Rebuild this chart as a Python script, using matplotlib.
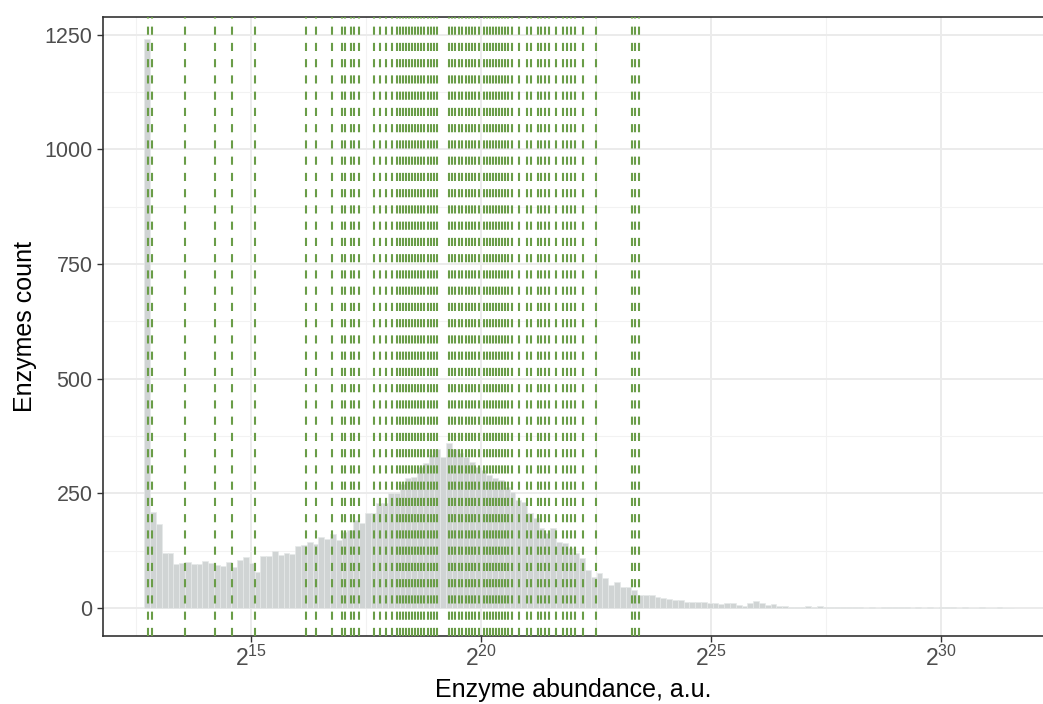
import numpy as np
import matplotlib
matplotlib.use("Agg")
import matplotlib.pyplot as plt

plt.rcParams['font.family'] = ['Liberation Sans', 'DejaVu Sans']
plt.rcParams['mathtext.fontset'] = 'custom'
plt.rcParams['mathtext.rm'] = 'Liberation Sans'
plt.rcParams['mathtext.default'] = 'regular'

# histogram of log2 enzyme abundance (150 bins)
bin_lo = 12.68
bin_hi = 31.59
counts = [1240, 210, 183, 119, 119, 96, 99, 101, 97, 97,
          103, 98, 94, 92, 101, 89, 105, 112, 99, 79,
          114, 114, 125, 115, 120, 118, 136, 137, 143, 140,
          155, 150, 161, 148, 166, 170, 192, 185, 207, 207,
          229, 229, 251, 250, 270, 283, 285, 308, 316, 334,
          347, 330, 360, 347, 338, 330, 319, 308, 301, 290,
          283, 279, 265, 254, 236, 232, 207, 196, 174, 163,
          174, 145, 141, 131, 120, 109, 83, 68, 76, 65,
          50, 57, 46, 46, 39, 28, 28, 29, 25, 22,
          20, 17, 17, 14, 14, 13, 14, 12, 10, 9,
          10, 11, 6, 4, 11, 16, 11, 7, 8, 5,
          4, 3, 3, 3, 4, 3, 4, 2, 2, 3,
          3, 2, 2, 2, 1, 2, 1, 2, 2, 2,
          3, 2, 1, 2, 1, 2, 1, 2, 3, 2,
          1, 2, 1, 1, 2, 1, 1, 2, 1, 1]

# log2 abundance of highlighted enzymes
marked = [12.76, 12.85, 13.57, 14.22, 14.59, 15.09, 16.20, 16.41, 16.76, 16.98,
          17.04, 17.17, 17.24, 17.35, 17.67, 17.80, 17.93, 18.07, 18.17, 18.24,
          18.30, 18.37, 18.43, 18.50, 18.57, 18.63, 18.70, 18.76, 18.85, 18.91,
          18.98, 19.04, 19.30, 19.37, 19.43, 19.52, 19.59, 19.67, 19.74, 19.80,
          19.87, 19.96, 20.07, 20.13, 20.20, 20.26, 20.33, 20.39, 20.46, 20.52,
          20.59, 20.67, 20.83, 21.00, 21.09, 21.24, 21.30, 21.39, 21.48, 21.63,
          21.78, 21.87, 21.96, 22.04, 22.22, 22.50, 23.28, 23.35, 23.43]

x_ticks = [15, 20, 25, 30]
y_ticks = [0, 250, 500, 750, 1000, 1250]

edges = np.linspace(bin_lo, bin_hi, len(counts) + 1)
centers = (edges[:-1] + edges[1:]) / 2
width = edges[1] - edges[0]

fig = plt.figure(figsize=(10.43, 7.04), dpi=100)
ax = fig.add_axes([0.0988, 0.0966, 0.9012, 0.8793])

ax.bar(centers, counts, width=width, color='#D0D4D4', edgecolor='#E6E9E9',
       linewidth=0.5, zorder=2)
for v in marked:
    ax.axvline(v, color='#6A9D48', lw=1.5, linestyle=(0, (3.9, 3.9)), zorder=3)

ax.set_xlim(11.78, 32.22)
ax.set_ylim(-61, 1289)
ax.set_xticks(x_ticks)
ax.set_xticklabels(['$2^{%d}$' % t for t in x_ticks], fontsize=16.5, color='#4D4D4D')
ax.set_yticks(y_ticks)
ax.set_yticklabels([str(t) for t in y_ticks], fontsize=15.5, color='#4D4D4D')
ax.set_xticks([12.5, 17.5, 22.5, 27.5], minor=True)
ax.set_yticks([125, 375, 625, 875, 1125], minor=True)
ax.tick_params(axis='both', which='major', length=4, width=1, color='#333333')
ax.tick_params(axis='x', which='major', pad=3)
ax.tick_params(axis='both', which='minor', length=0)
ax.grid(which='major', color='#EBEBEB', lw=1.4, zorder=0)
ax.grid(which='minor', color='#F2F2F2', lw=0.8, zorder=0)
ax.set_axisbelow(True)

for s in ['left', 'bottom', 'top']:
    ax.spines[s].set_color('#333333')
    ax.spines[s].set_linewidth(1.2)
ax.spines['right'].set_visible(False)

ax.set_xlabel('Enzyme abundance, a.u.', fontsize=18, labelpad=5)
ax.set_ylabel('Enzymes count', fontsize=18, labelpad=5)

fig.savefig('out.png', dpi=100)
